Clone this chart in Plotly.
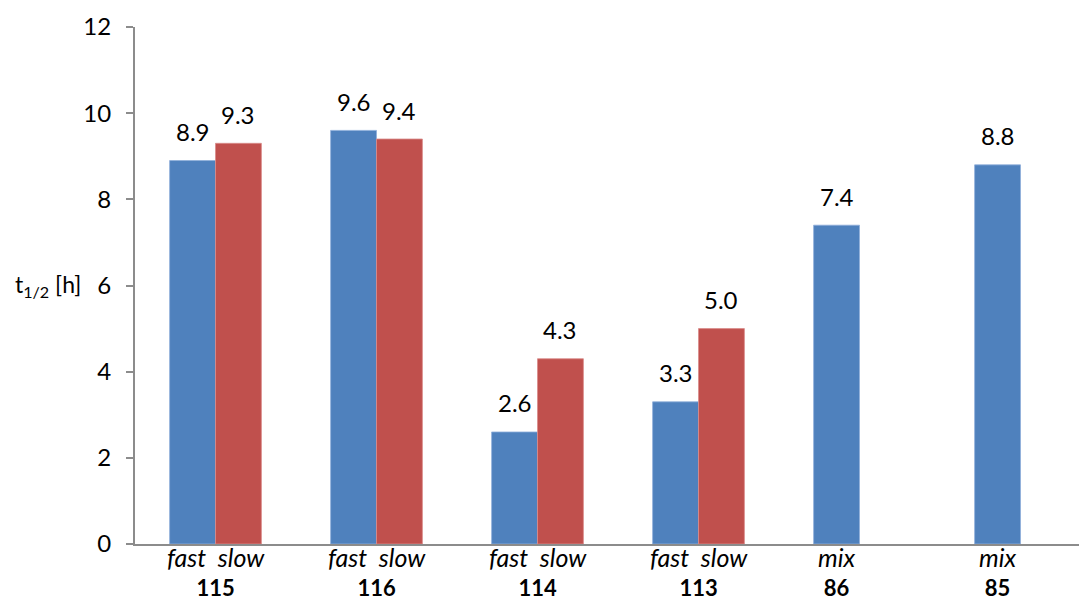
import plotly.graph_objects as go

groups = ["115", "116", "114", "113", "86", "85"]
group_kinds = ["fast  slow", "fast  slow", "fast  slow", "fast  slow", "mix", "mix"]
fast_vals = [8.9, 9.6, 2.6, 3.3, 7.4, 8.8]
slow_vals = [9.3, 9.4, 4.3, 5.0, None, None]
y_ticks = [0, 2, 4, 6, 8, 10, 12]

BLUE = "#4F81BD"
RED = "#C0504D"
AXIS = "#8C8C8C"
FONT = "Lato, Open Sans, sans-serif"
FS = 24
bargap = 0.43
half = (1 - bargap) / 4  # half-width offset of a bar from the group centre

xs = list(range(len(groups)))

fig = go.Figure()
fig.add_trace(go.Bar(x=xs, y=fast_vals, name="fast", marker=dict(color=BLUE, line=dict(color="#8FAEDB", width=0.8))))
fig.add_trace(go.Bar(x=xs, y=slow_vals, name="slow", marker=dict(color=RED, line=dict(color="#D98C8A", width=0.8))))

ann = []
for i, (f, s) in enumerate(zip(fast_vals, slow_vals)):
    ann.append(dict(x=i - half, y=f, text=f"{f:.1f}", showarrow=False, yshift=29,
                    xref="x", yref="y", font=dict(size=FS, color="black")))
    if s is not None:
        ann.append(dict(x=i + half, y=s, text=f"{s:.1f}", showarrow=False, yshift=29,
                        xref="x", yref="y", font=dict(size=FS, color="black")))
    cx = i if slow_vals[i] is not None else i - half
    label = (f"<span style='font-size:25px'><i>{group_kinds[i]}</i></span>"
             f"<br><b>{groups[i]}</b>")
    ann.append(dict(x=cx, y=0, text=label, showarrow=False, yanchor="top", yshift=3,
                    borderpad=0, xref="x", yref="y", font=dict(size=22, color="black")))

ann.append(dict(x=-0.128, y=6, xref="paper", yref="y", xanchor="left", showarrow=False,
                text="t<sub>1/2</sub> [h]", font=dict(size=23, color="black")))

fig.update_layout(
    width=1079, height=593,
    margin=dict(l=127, r=0, t=19, b=57),
    paper_bgcolor="white", plot_bgcolor="white",
    barmode="group", bargap=bargap, bargroupgap=0,
    showlegend=False,
    font=dict(family=FONT, size=FS, color="black"),
    annotations=ann,
    xaxis=dict(range=[-0.5, 5.413], showticklabels=False, ticks="", showgrid=False,
               zeroline=False, showline=True, linecolor=AXIS, linewidth=2, automargin=False),
    yaxis=dict(range=[0, 12], tickvals=y_ticks, showgrid=False, zeroline=False,
               showline=True, linecolor=AXIS, linewidth=2, ticks="outside", ticklen=7,
               tickcolor=AXIS, tickwidth=1.5, tickfont=dict(size=FS), ticklabelstandoff=10,
               automargin=False),
)

fig.write_html("out.html")
